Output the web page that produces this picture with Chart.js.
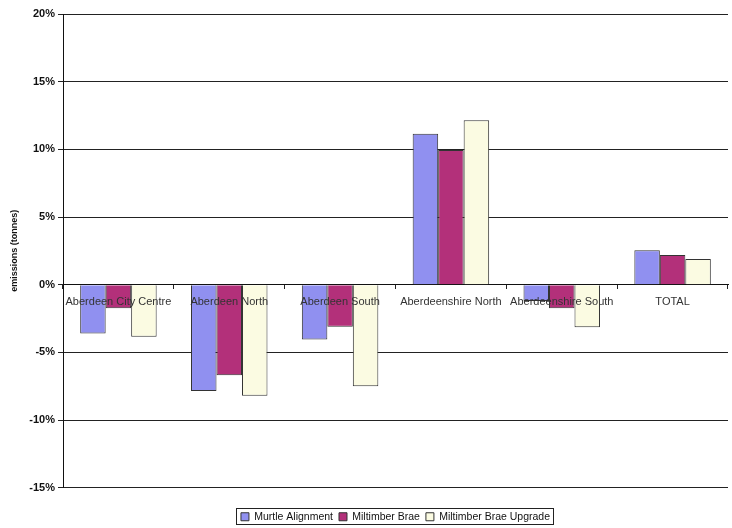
<!DOCTYPE html>
<html>
<head>
<meta charset="utf-8">
<script src="https://cdn.jsdelivr.net/npm/chart.js@4"></script>
<style>
  html, body { margin: 0; padding: 0; background: #fff; }
  #wrap { width: 732px; height: 528px; }
</style>
</head>
<body>
<div id="wrap"><canvas id="emChart" width="732" height="528"></canvas></div>
<script>
const areas = ['Aberdeen City Centre', 'Aberdeen North', 'Aberdeen South',
               'Aberdeenshire North', 'Aberdeenshire South', 'TOTAL'];
const murtle = [-3.6, -7.85, -4.05, 11.15, -1.2, 2.55];
const miltimber = [-1.75, -6.7, -3.1, 9.95, -1.75, 2.2];
const miltimberUpgrade = [-3.85, -8.2, -7.5, 12.15, -3.15, 1.9];

// draws the thin box round the legend, like the spreadsheet original
const legendBox = {
    id: 'legendBox',
    afterDraw(chart) {
        const boxes = chart.legend.legendHitBoxes;
        if (!boxes || !boxes.length) return;
        let x0 = Infinity, x1 = -Infinity, y0 = Infinity, y1 = -Infinity;
        boxes.forEach(b => {
            x0 = Math.min(x0, b.left); x1 = Math.max(x1, b.left + b.width);
            y0 = Math.min(y0, b.top); y1 = Math.max(y1, b.top + b.height);
        });
        const ctx = chart.ctx;
        ctx.save();
        ctx.strokeStyle = '#222';
        ctx.lineWidth = 1;
        ctx.strokeRect(Math.round(x0) - 4.5, Math.round(y0) - 3.5,
                       Math.round(x1 - x0) + 8, Math.round(y1 - y0) + 5);
        ctx.restore();
    }
};

const ctx = document.getElementById('emChart').getContext('2d');
new Chart(ctx, {
    type: 'bar',
    data: {
        labels: areas,
        datasets: [{
            label: 'Murtle Alignment',
            data: murtle,
            backgroundColor: '#9090f0',
            borderColor: '#333',
            borderWidth: 1
        }, {
            label: 'Miltimber Brae',
            data: miltimber,
            backgroundColor: '#b3307a',
            borderColor: '#333',
            borderWidth: 1
        }, {
            label: 'Miltimber Brae Upgrade',
            data: miltimberUpgrade,
            backgroundColor: '#fbfbe2',
            borderColor: '#333',
            borderWidth: 1
        }]
    },
    options: {
        animation: false,
        responsive: false,
        layout: { padding: { top: 14, right: 4, left: 0, bottom: -4 } },
        datasets: {
            bar: { categoryPercentage: 0.69, barPercentage: 1.0 }
        },
        scales: {
            x: {
                position: { y: 0 },
                grid: { drawOnChartArea: false, drawTicks: true, tickLength: 4, color: '#222', offset: true },
                border: { color: '#111', width: 1 },
                ticks: {
                    z: 1,
                    color: '#333',
                    padding: 7,
                    maxRotation: 0,
                    minRotation: 0,
                    autoSkip: false,
                    font: { family: 'Liberation Sans, Arial', size: 11 }
                }
            },
            y: {
                min: -15,
                max: 20,
                afterFit: (scale) => { scale.width = 63; },
                grid: { color: '#222', tickLength: 5 },
                border: { color: '#111', width: 1 },
                ticks: {
                    stepSize: 5,
                    color: '#111',
                    padding: 3,
                    font: { family: 'Liberation Sans, Arial', size: 11, weight: 'bold' },
                    callback: v => v + '%'
                },
                title: {
                    display: true,
                    text: 'emissions (tonnes)',
                    color: '#111',
                    padding: { top: 9, bottom: 0 },
                    font: { family: 'Liberation Sans, Arial', size: 9, weight: 'bold' }
                }
            }
        },
        plugins: {
            legend: {
                position: 'bottom',
                fullSize: false,
                title: {
                    display: true,
                    text: ' ',
                    padding: { top: 7, bottom: 0 },
                    font: { size: 9 }
                },
                labels: {
                    boxWidth: 8,
                    boxHeight: 8,
                    padding: 6,
                    color: '#111',
                    font: { family: 'Liberation Sans, Arial', size: 10.5 }
                }
            },
            tooltip: { enabled: false }
        }
    },
    plugins: [legendBox]
});
</script>
</body>
</html>
